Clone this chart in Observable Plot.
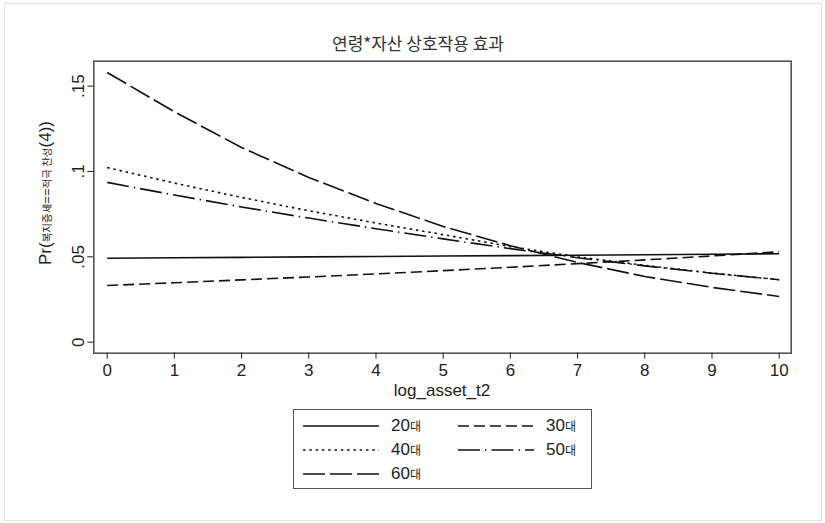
<!DOCTYPE html>
<html><head><meta charset="utf-8">
<script src="https://cdn.jsdelivr.net/npm/d3@7"></script>
<script src="https://cdn.jsdelivr.net/npm/@observablehq/plot@0.6"></script>
<style>
body{margin:0;background:#fff;}
#wrap{position:relative;width:825px;height:523px;overflow:hidden;background:#fff;font-family:"Liberation Sans",Arial,"Noto Sans CJK KR",sans-serif;color:#222;}
#outer{position:absolute;left:4px;top:3px;width:816px;height:516px;border:1px solid #e2e2e2;}
#title{position:absolute;left:0;width:836px;top:33px;text-align:center;font-family:"Noto Sans CJK KR",sans-serif;font-size:17px;color:#333;line-height:20px;}
#xlabel{position:absolute;left:0;width:884px;top:381px;text-align:center;font-size:17px;line-height:20px;color:#222;}
#legend{position:absolute;left:293px;top:409px;width:297px;height:78px;border:1.5px solid #555;}
.item{position:absolute;height:20px;line-height:20px;font-size:17px;}
.item svg{position:absolute;left:0;top:0;}
.item span{position:absolute;top:0;white-space:nowrap;}
.ko{font-family:"Noto Sans CJK KR",sans-serif;font-size:12px;}
</style></head><body>
<div id="wrap">
  <div id="outer"></div>
  <div id="title">연령*자산 상호작용 효과</div>
  <div id="xlabel">log_asset_t2</div>
  <div id="legend"></div>
</div>
<script>
// ---- data ----
const xValues = [0, 1, 2, 3, 4, 5, 6, 7, 8, 9, 10];
const seriesNames = ["20대", "30대", "40대", "50대", "60대"];
const age20 = [0.0492, 0.0495, 0.0497, 0.0500, 0.0502, 0.0505, 0.0507, 0.0509, 0.0512, 0.0515, 0.0518];
const age30 = [0.0332, 0.0348, 0.0365, 0.0382, 0.0400, 0.0419, 0.0439, 0.0460, 0.0482, 0.0505, 0.0530];
const age40 = [0.1023, 0.0932, 0.0848, 0.0770, 0.0698, 0.0630, 0.0560, 0.0500, 0.0450, 0.0405, 0.0366];
const age50 = [0.0936, 0.0862, 0.0792, 0.0727, 0.0665, 0.0605, 0.0548, 0.0495, 0.0447, 0.0404, 0.0366];
const age60 = [0.1580, 0.1350, 0.1140, 0.0965, 0.0813, 0.0678, 0.0565, 0.0467, 0.0385, 0.0321, 0.0268];
const xTicks = [0, 1, 2, 3, 4, 5, 6, 7, 8, 9, 10];
const yTicks = [0, 0.05, 0.1, 0.15];
const yTickLabels = ["0", ".05", ".1", ".15"];
const titleText = "연령*자산 상호작용 효과";
const xLabelText = "log_asset_t2";

// ---- styles ----
const seriesValues = [age20, age30, age40, age50, age60];
const dashes = ["none", "11,5", "2.5,3.8", "22,5,1.5,5", "22,5"];
const lineColor = "#111";

const rows = seriesNames.map((name, s) => xValues.map((x, i) => ({x, p: seriesValues[s][i], group: name})));
const yLabelMap = new Map(yTicks.map((t, i) => [t, yTickLabels[i]]));

const marks = [Plot.frame({stroke: "#555", strokeWidth: 1.6})];
rows.forEach((r, s) => {
  marks.push(Plot.line(r, {x: "x", y: "p", stroke: lineColor, strokeWidth: 1.6, strokeDasharray: dashes[s], strokeLinecap: "butt"}));
});
marks.push(Plot.axisX({ticks: xTicks, tickSize: 6, tickPadding: 5, tickFormat: d => String(d), fontSize: 17, label: null}));
marks.push(Plot.axisY({ticks: yTicks, tickSize: 6, tickPadding: 4, tickRotate: -90, tickFormat: d => yLabelMap.get(d), fontSize: 17, label: null}));

const svg = Plot.plot({
  width: 825, height: 410,
  marginLeft: 93.3, marginRight: 34.3, marginTop: 60.7, marginBottom: 57.3,
  x: {domain: [-0.199, 10.179]},
  y: {domain: [-0.00645, 0.1646]},
  style: {fontFamily: '"Liberation Sans", Arial, sans-serif', fontSize: "17px", color: "#222", background: "transparent", overflow: "visible"},
  marks
});
svg.style.position = "absolute";
svg.style.left = "0px";
svg.style.top = "0px";

// y-axis title with mixed sizes
const yl = d3.select(svg).append("text")
  .attr("transform", "translate(51,193) rotate(-90)")
  .attr("text-anchor", "middle")
  .attr("fill", "#222")
  .style("font-family", '"Liberation Sans", Arial, sans-serif');
yl.append("tspan").attr("font-size", 17).text("Pr(");
yl.append("tspan").attr("font-size", 10.5).style("font-family", '"Noto Sans CJK KR", sans-serif').text("복지증세");
yl.append("tspan").attr("font-size", 13).text("==");
yl.append("tspan").attr("font-size", 10.5).style("font-family", '"Noto Sans CJK KR", sans-serif').text("적극 찬성");
yl.append("tspan").attr("font-size", 17).text("(4))");

document.getElementById("wrap").insertBefore(svg, document.getElementById("title"));
document.getElementById("title").textContent = titleText;
document.getElementById("xlabel").textContent = xLabelText;

// legend
const legendPos = [[9, 6, 0], [164, 6, 0], [9, 30, 1], [164, 30, 1], [9, 54, 2]];
const legend = document.getElementById("legend");
seriesNames.forEach((name, s) => {
  const [lx, ly] = legendPos[s];
  const div = document.createElement("div");
  div.className = "item";
  div.style.left = lx + "px";
  div.style.top = ly + "px";
  div.style.width = "140px";
  const ns = "http://www.w3.org/2000/svg";
  const sv = document.createElementNS(ns, "svg");
  sv.setAttribute("width", 80); sv.setAttribute("height", 20);
  const ln = document.createElementNS(ns, "line");
  ln.setAttribute("x1", 0); ln.setAttribute("x2", 76); ln.setAttribute("y1", 10); ln.setAttribute("y2", 10);
  ln.setAttribute("stroke", lineColor); ln.setAttribute("stroke-width", 1.6);
  if (dashes[s] !== "none") ln.setAttribute("stroke-dasharray", dashes[s]);
  sv.appendChild(ln);
  div.appendChild(sv);
  const sp = document.createElement("span");
  sp.style.left = "88px";
  const num = name.replace("대", "");
  sp.innerHTML = num + '<span class="ko" style="position:static">대</span>';
  div.appendChild(sp);
  legend.appendChild(div);
});
</script>
</body></html>
